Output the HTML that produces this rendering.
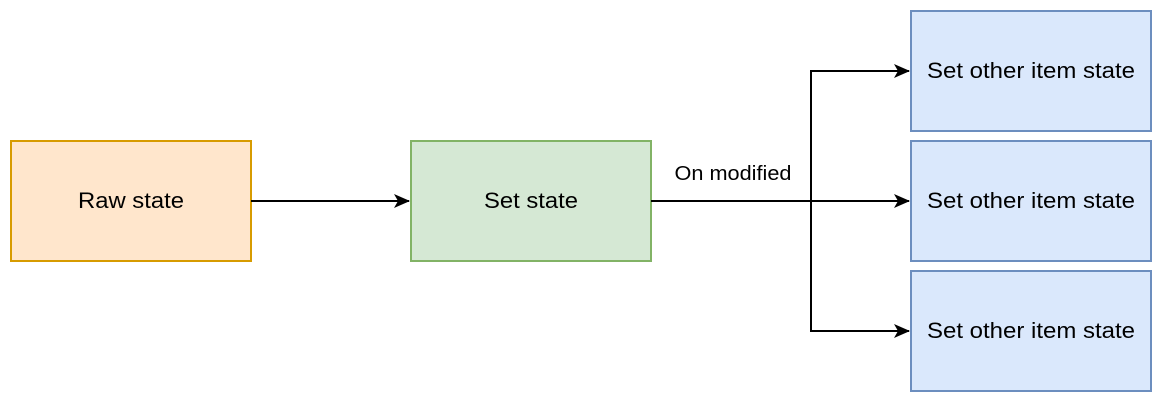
<!DOCTYPE html>
<html><head><meta charset="utf-8"><style>html,body{margin:0;padding:0;background:#fff;}svg{display:block}</style></head>
<body>
<svg width="1162" height="402" viewBox="0 0 1162 402" xmlns="http://www.w3.org/2000/svg" font-family="Liberation Sans, Arial, sans-serif">
<defs>
<marker id="a" markerWidth="16" markerHeight="14" refX="15" refY="7" orient="auto" markerUnits="userSpaceOnUse">
<path d="M0,0 L16,7 L0,14 L4,7 Z" fill="#000"/>
</marker>
</defs>
<rect x="11" y="141" width="240" height="120" fill="#ffe6cc" stroke="#d79b00" stroke-width="2"/>
<rect x="411" y="141" width="240" height="120" fill="#d5e8d4" stroke="#82b366" stroke-width="2"/>
<rect x="911" y="11" width="240" height="120" fill="#dae8fc" stroke="#6c8ebf" stroke-width="2"/>
<rect x="911" y="141" width="240" height="120" fill="#dae8fc" stroke="#6c8ebf" stroke-width="2"/>
<rect x="911" y="271" width="240" height="120" fill="#dae8fc" stroke="#6c8ebf" stroke-width="2"/>
<g stroke="#000" stroke-width="2" fill="none">
<path d="M251,201 L409,201" marker-end="url(#a)"/>
<path d="M651,201 L811,201 L811,71 L909,71" marker-end="url(#a)"/>
<path d="M811,201 L909,201" marker-end="url(#a)"/>
<path d="M811,201 L811,331 L909,331" marker-end="url(#a)"/>
</g>
<g font-size="22" fill="#000" text-anchor="middle">
<text x="131" y="208" textLength="106" lengthAdjust="spacingAndGlyphs">Raw state</text>
<text x="531" y="208" textLength="94" lengthAdjust="spacingAndGlyphs">Set state</text>
<text x="1031" y="78" textLength="208" lengthAdjust="spacingAndGlyphs">Set other item state</text>
<text x="1031" y="208" textLength="208" lengthAdjust="spacingAndGlyphs">Set other item state</text>
<text x="1031" y="338" textLength="208" lengthAdjust="spacingAndGlyphs">Set other item state</text>
</g>
<text x="733" y="180" font-size="20" text-anchor="middle" textLength="117" lengthAdjust="spacingAndGlyphs">On modified</text>
</svg>
</body></html>
